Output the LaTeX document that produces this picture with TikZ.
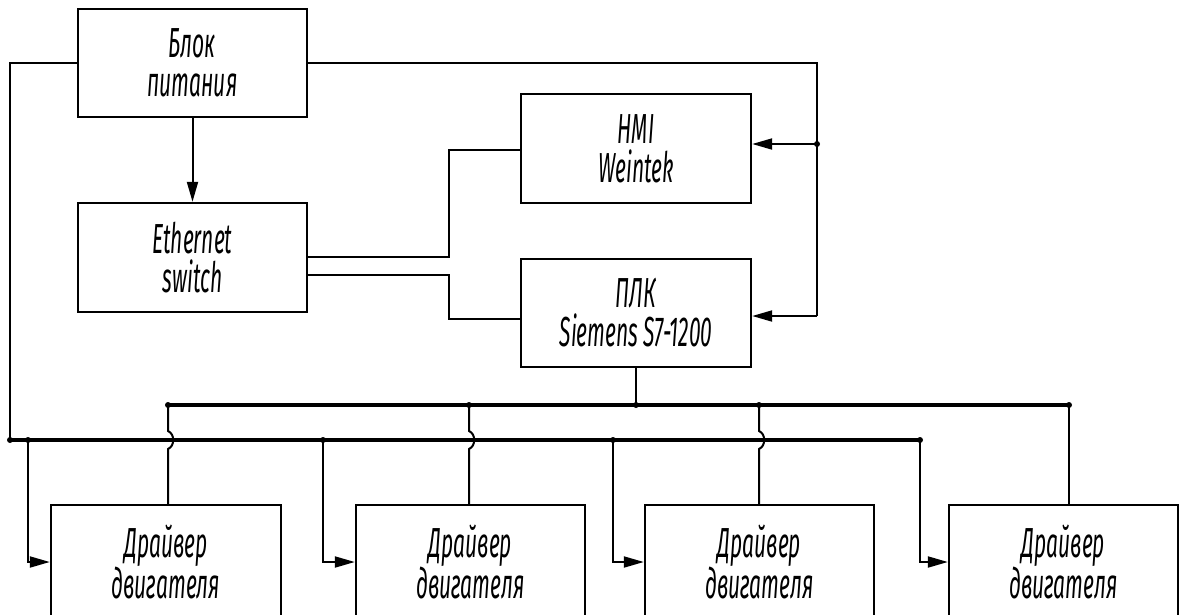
\documentclass[tikz,border=0pt]{standalone}
\usepackage{fontspec}
\newfontfamily\gost{Fira Sans}[FakeStretch=0.5]
\usetikzlibrary{arrows.meta}
\begin{document}
\begin{tikzpicture}[x=1pt,y=-1pt,
  box/.style={draw, line width=2.4pt, inner sep=0pt, align=center,
    font=\gost\itshape\fontsize{42}{39}\selectfont},
  wire/.style={line width=2pt},
  bus/.style={line width=4pt},
  feed/.style={wire, -{Triangle[length=20pt,width=11pt]}},
  jn/.style={circle, fill, inner sep=0pt, minimum size=6pt}
]
\useasboundingbox (0,0) rectangle (1179,614);
\clip (0,0) rectangle (1179,614);

% upper blocks
\node[box, minimum width=229pt, minimum height=108pt] (psu) at (192.5,63)   {Блок\\питания};
\node[box, minimum width=229pt, minimum height=109pt] (sw)  at (192.5,257.5) {Ethernet\\switch};
\node[box, minimum width=230pt, minimum height=109pt] (hmi) at (636,148.5)  {HMI\\Weintek};
\node[box, minimum width=230pt, minimum height=108pt] (plc) at (636,313)    {ПЛК\\Siemens S7-1200};

% motor drivers
\node[box, minimum width=230pt, minimum height=114pt] (d1) at (166,562)    {Драйвер\\двигателя};
\node[box, minimum width=229pt, minimum height=114pt] (d2) at (470.5,562)  {Драйвер\\двигателя};
\node[box, minimum width=229pt, minimum height=114pt] (d3) at (759.5,562)  {Драйвер\\двигателя};
\node[box, minimum width=229pt, minimum height=114pt] (d4) at (1063.5,562) {Драйвер\\двигателя};

% routing points
\coordinate (lt) at (10,63);
\coordinate (lb) at (10,440);
\coordinate (rt) at (817,63);
\coordinate (hmiIn) at (817,144);
\coordinate (plcIn) at (817,316);
\coordinate (pe) at (920,440);
\coordinate (cs) at (168,405);
\coordinate (ce) at (1069,405);
\coordinate (cp) at (636,405);
\coordinate (e1) at (449,257);
\coordinate (e2) at (449,150);
\coordinate (e3) at (449,275);
\coordinate (e4) at (449,319);

% power supply lines
\draw[feed] (psu) -- (sw);
\draw[wire] (psu.west) -- (lt) -- (lb);
\draw[bus] (lb) -- (pe);
\draw[wire, line width=2.6pt] (psu.east) -- (rt) -- (plcIn);
\draw[feed] (hmiIn) -- (hmi.east |- hmiIn);
\draw[feed] (plcIn) -- (plc.east |- plcIn);

% ethernet links
\draw[wire] (sw.east |- e1) -- (e1) -- (e2) -- (hmi.west |- e2);
\draw[wire] (sw.east |- e3) -- (e3) -- (e4) -- (plc.west |- e4);

% control bus
\draw[wire] (plc.south) -- (cp);
\draw[bus] (cs) -- (ce);

% control drops, hopping over the power bus
\foreach \n/\x in {d1/168, d2/469, d3/759} {
  \draw[wire] (\x,405) -- (\x,431) .. controls (\x+7,434) and (\x+7,446) .. (\x,449) -- (\n.north -| \x,0);
}
\draw[wire] (ce) -- (d4.north -| ce);

% power feeds to the drivers
\draw[feed] (28,440) |- (d1.west);
\draw[feed] (323,440) |- (d2.west);
\draw[feed] (613,440) |- (d3.west);
\draw[feed] (pe) |- (d4.west);

% junction dots
\foreach \p in {(10,440),(28,440),(323,440),(613,440),(920,440),
                (168,405),(469,405),(636,405),(759,405),(1069,405),(817,144)}
  \node[jn] at \p {};
\end{tikzpicture}
\end{document}
